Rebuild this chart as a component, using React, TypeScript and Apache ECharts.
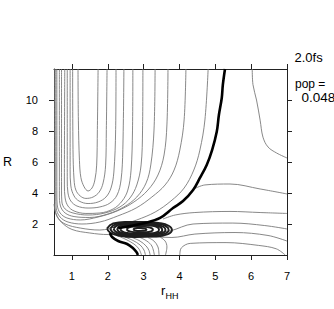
import React, { useEffect, useRef } from "react";
import * as echarts from "echarts";

const X_TICKS = [1, 2, 3, 4, 5, 6, 7];
const Y_TICKS = [2, 4, 6, 8, 10];
const X_MIN = 0.5;
const X_MAX = 7;
const Y_MIN = 0;
const Y_MAX = 12;

const TIME_LABEL = "2.0fs";
const POP_LABEL = "pop =";
const POP_VALUE = "0.048";

// U-shaped contours of the H2 valley, innermost first
const well1 = [[1.17, 12], [1.18, 8.7], [1.21, 6.1], [1.25, 5.0], [1.34, 4.4], [1.45, 4.13], [1.56, 4.32], [1.64, 4.84], [1.69, 5.8], [1.71, 8.1], [1.73, 12]];
const well2 = [[1.02, 12], [1.03, 6.8], [1.06, 4.84], [1.11, 4.19], [1.23, 3.81], [1.39, 3.65], [1.59, 3.74], [1.76, 4.06], [1.87, 4.65], [1.94, 5.8], [1.96, 8.1], [1.98, 12]];
const well3 = [[0.95, 12], [0.95, 5.5], [0.97, 4.45], [1.06, 3.81], [1.2, 3.48], [1.45, 3.32], [1.73, 3.42], [1.95, 3.74], [2.09, 4.32], [2.17, 5.35], [2.22, 8.1], [2.23, 12]];
const well4 = [[0.87, 12], [0.87, 4.84], [0.89, 4.0], [0.97, 3.48], [1.14, 3.16], [1.45, 3.03], [1.78, 3.1], [2.06, 3.35], [2.26, 3.87], [2.37, 4.84], [2.42, 6.8], [2.45, 12]];
const well5 = [[0.8, 12], [0.79, 4.52], [0.81, 3.68], [0.89, 3.16], [1.06, 2.84], [1.39, 2.68], [1.78, 2.71], [2.15, 2.97], [2.4, 3.48], [2.56, 4.19], [2.65, 5.48], [2.69, 8.06], [2.7, 12]];
const well6 = [[0.71, 12], [0.71, 4.19], [0.72, 3.42], [0.81, 2.97], [1.03, 2.71], [1.45, 2.58], [1.92, 2.71], [2.34, 3.1], [2.62, 3.68], [2.81, 4.52], [2.93, 5.81], [2.97, 8.06], [2.98, 12]];
const well7 = [[0.65, 12], [0.65, 3.87], [0.68, 3.16], [0.81, 2.71], [1.06, 2.48], [1.5, 2.42], [2.01, 2.65], [2.45, 3.1], [2.81, 3.74], [3.07, 4.65], [3.2, 5.81], [3.29, 8.06], [3.32, 12]];
const well8 = [[0.58, 12], [0.58, 3.87], [0.59, 3.23], [0.67, 2.71], [0.86, 2.39], [1.23, 2.26], [1.73, 2.45], [2.26, 2.84], [2.73, 3.42], [3.12, 4.19], [3.4, 5.16], [3.57, 6.45], [3.65, 8.39], [3.68, 12]];
const well9 = [[0.55, 12], [0.55, 3.87], [0.56, 3.03], [0.67, 2.45], [0.89, 2.13], [1.28, 2.0], [1.78, 2.13], [2.28, 2.52], [2.79, 3.03], [3.23, 3.74], [3.6, 4.52], [3.85, 5.48], [4.01, 6.77], [4.13, 8.71], [4.18, 12]];
const well10 = [[0.52, 12], [0.52, 3.55], [0.53, 2.9], [0.61, 2.39], [0.81, 2.0], [1.23, 1.74], [1.78, 1.61], [2.28, 1.87], [2.81, 2.26], [3.32, 2.77], [3.76, 3.48], [4.13, 4.32], [4.4, 5.48], [4.57, 6.77], [4.71, 8.71], [4.8, 12]];

// thick contour (upper and lower branch)
const thickUpper = [[5.27, 12], [5.21, 10.97], [5.18, 10.13], [5.1, 9.03], [5.04, 7.95], [4.91, 6.77], [4.76, 5.81], [4.57, 4.97], [4.38, 4.19], [4.1, 3.48], [3.82, 3.03], [3.46, 2.39], [3.04, 2.06], [2.62, 1.87], [2.29, 1.74]];
const thickLower = [[2.06, 1.42], [2.12, 1.16], [2.29, 0.9], [2.54, 0.71], [2.7, 0.45], [2.8, 0.19], [2.84, 0]];

// contours under the packet
const below1 = [[2.28, 1.23], [2.51, 1.0], [2.73, 0.71], [2.87, 0.39], [2.94, 0]];
const below2 = [[2.48, 1.16], [2.7, 0.94], [2.9, 0.65], [3.01, 0.32], [3.05, 0]];
const below3 = [[2.68, 1.13], [2.9, 0.9], [3.07, 0.58], [3.15, 0.29], [3.18, 0]];
const below4 = [[2.9, 1.13], [3.09, 0.9], [3.23, 0.58], [3.3, 0]];
const below5 = [[3.12, 1.13], [3.29, 0.9], [3.4, 0.52], [3.43, 0]];
const below6 = [[3.46, 1.16], [3.6, 0.9], [3.65, 0.52], [3.61, 0]];

// contours of the dissociation region (right)
const rightA = [[4.01, 0], [4.05, 0.45], [4.3, 0.75], [5.3, 0.8], [6.2, 0.62], [6.7, 0.4], [6.95, 0]];
const rightB = [[3.0, 1.2], [3.18, 1.19], [3.79, 1.13], [4.43, 1.35], [5.55, 1.45], [6.47, 1.26], [7.0, 0.9]];
const rightC = [[0.5, 3.29], [0.56, 2.65], [0.7, 2.13], [1.0, 1.65], [1.5, 1.42], [2.01, 1.32], [2.48, 1.32], [3.04, 1.39], [3.46, 1.48], [3.74, 1.55], [4.38, 2.0], [5.49, 2.06], [6.38, 1.9], [7.0, 1.68]];
const rightD = [[3.54, 2.32], [3.88, 2.58], [4.43, 2.74], [5.41, 2.81], [6.25, 2.74], [7.0, 2.68]];
const rightE = [[4.4, 4.26], [4.71, 4.52], [5.41, 4.58], [6.25, 4.26], [7.0, 3.94]];
const rightF = [[6.03, 12], [6.05, 11.0], [6.15, 10.0], [6.25, 8.7], [6.33, 7.6], [6.47, 6.97], [6.71, 6.58], [7.0, 6.26]];

// dense packet (nested closed contours)
const packet1 = [[1.98, 1.71], [2.15, 2.03], [2.48, 2.13], [3.04, 2.13], [3.46, 2.06], [3.71, 1.87], [3.79, 1.61], [3.68, 1.35], [3.32, 1.19], [2.76, 1.16], [2.28, 1.26], [2.06, 1.45], [1.98, 1.71]];
const packet2 = [[2.07, 1.7], [2.23, 1.99], [2.52, 2.08], [3.03, 2.08], [3.4, 2.01], [3.63, 1.85], [3.7, 1.61], [3.6, 1.38], [3.28, 1.24], [2.77, 1.21], [2.34, 1.3], [2.14, 1.47], [2.07, 1.7]];
const packet3 = [[2.16, 1.7], [2.3, 1.95], [2.56, 2.02], [3.01, 2.02], [3.35, 1.97], [3.55, 1.82], [3.61, 1.62], [3.52, 1.41], [3.24, 1.29], [2.79, 1.27], [2.4, 1.35], [2.23, 1.49], [2.16, 1.7]];
const packet4 = [[2.26, 1.69], [2.38, 1.91], [2.61, 1.98], [3.0, 1.98], [3.29, 1.93], [3.47, 1.8], [3.52, 1.62], [3.45, 1.44], [3.19, 1.34], [2.8, 1.32], [2.47, 1.39], [2.31, 1.51], [2.26, 1.69]];
const packet5 = [[2.35, 1.68], [2.45, 1.87], [2.65, 1.93], [2.98, 1.93], [3.24, 1.89], [3.39, 1.78], [3.43, 1.63], [3.37, 1.47], [3.15, 1.38], [2.82, 1.36], [2.53, 1.42], [2.4, 1.53], [2.35, 1.68]];
const packet6 = [[2.53, 1.67], [2.6, 1.79], [2.73, 1.83], [2.96, 1.83], [3.12, 1.8], [3.22, 1.73], [3.26, 1.63], [3.21, 1.53], [3.07, 1.47], [2.84, 1.46], [2.65, 1.5], [2.56, 1.57], [2.53, 1.67]];
const packet7 = [[2.72, 1.66], [2.75, 1.72], [2.82, 1.74], [2.93, 1.74], [3.01, 1.72], [3.06, 1.69], [3.08, 1.64], [3.06, 1.59], [2.98, 1.56], [2.87, 1.55], [2.78, 1.57], [2.73, 1.61], [2.72, 1.66]];

const thinLines = [well1, well2, well3, well4, well5, well6, well7, well8, well9, well10,
  below1, below2, below3, below4, below5, below6,
  rightA, rightB, rightC, rightD, rightE, rightF];
const packetLines = [packet1, packet2, packet3, packet4, packet5, packet6, packet7];
const thickLines = [thickUpper, thickLower];

const FONT = "Liberation Sans, Arial, Helvetica, sans-serif";

export default function App() {
  const ref = useRef<HTMLDivElement>(null);
  useEffect(() => {
    if (!ref.current) return;
    const chart = echarts.init(ref.current, null, { renderer: "svg" });
    const series: any[] = [];
    thinLines.forEach((d) =>
      series.push({
        type: "line", data: d, showSymbol: false, smooth: 0.35, silent: true,
        lineStyle: { color: "#7a7a7a", width: 0.9 }, z: 2,
      })
    );
    packetLines.forEach((d) =>
      series.push({
        type: "line", data: d, showSymbol: false, smooth: 0.5, silent: true,
        lineStyle: { color: "#1e1e1e", width: 1.9 }, z: 3,
      })
    );
    thickLines.forEach((d) =>
      series.push({
        type: "line", data: d, showSymbol: false, smooth: 0.35, silent: true,
        lineStyle: { color: "#000", width: 2.6 }, z: 4,
      })
    );
    const axisLine = { show: true, onZero: false, lineStyle: { color: "#222", width: 1 } };
    chart.setOption({
      animation: false,
      grid: { left: 54, right: 47, top: 69, bottom: 54, containLabel: false, outerBoundsMode: "none" },
      xAxis: [
        {
          type: "value", min: X_MIN, max: X_MAX, position: "bottom",
          axisLine, splitLine: { show: false },
          axisTick: { show: true, inside: false, length: 5, customValues: X_TICKS, lineStyle: { color: "#222" } },
          axisLabel: { show: true, customValues: X_TICKS, margin: 15, fontSize: 11, color: "#000", fontFamily: FONT },
        },
        {
          type: "value", min: X_MIN, max: X_MAX, position: "top",
          axisLine, splitLine: { show: false },
          axisTick: { show: true, inside: false, length: 5, customValues: X_TICKS, lineStyle: { color: "#222" } },
          axisLabel: { show: false },
        },
      ],
      yAxis: [
        {
          type: "value", min: Y_MIN, max: Y_MAX, position: "left",
          axisLine, splitLine: { show: false },
          axisTick: { show: true, inside: false, length: 5, customValues: Y_TICKS, lineStyle: { color: "#222" } },
          axisLabel: { show: true, customValues: Y_TICKS, margin: 16, fontSize: 11, color: "#000", fontFamily: FONT },
        },
        {
          type: "value", min: Y_MIN, max: Y_MAX, position: "right",
          axisLine, splitLine: { show: false },
          axisTick: { show: true, inside: false, length: 5, customValues: Y_TICKS, lineStyle: { color: "#222" } },
          axisLabel: { show: false },
        },
      ],
      series,
      graphic: [
        { type: "text", x: 3, y: 162, style: { text: "R", fontSize: 12.5, fontFamily: FONT, fill: "#000", verticalAlign: "middle" } },
        { type: "text", x: 161, y: 290.5, style: { text: "r", fontSize: 13, fontFamily: FONT, fill: "#000", verticalAlign: "middle" } },
        { type: "text", x: 165.5, y: 296, style: { text: "HH", fontSize: 9, fontFamily: FONT, fill: "#000", verticalAlign: "middle" } },
        { type: "text", x: 294.5, y: 57.3, style: { text: TIME_LABEL, fontSize: 13, fontFamily: FONT, fill: "#000", verticalAlign: "middle" } },
        { type: "text", x: 295, y: 84, style: { text: POP_LABEL, fontSize: 12, fontFamily: FONT, fill: "#000", verticalAlign: "middle" } },
        { type: "text", x: 301.5, y: 97, style: { text: POP_VALUE, fontSize: 13.5, fontFamily: FONT, fill: "#000", verticalAlign: "middle" } },
      ],
    });
    return () => chart.dispose();
  }, []);
  return (
    <div
      ref={ref}
      style={{ position: "fixed", left: 0, top: 0, width: 334, height: 309, background: "#fff" }}
    />
  );
}
